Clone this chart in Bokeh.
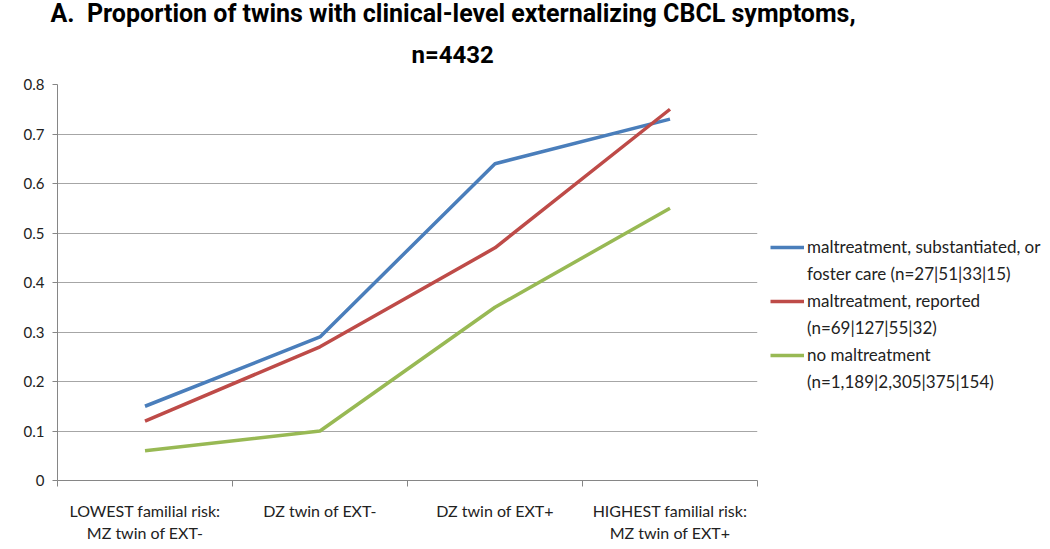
from bokeh.plotting import figure
from bokeh.models import FixedTicker, Legend, LegendItem, Range1d, Title
from bokeh.embed import file_html
from bokeh.resources import INLINE

title_line1 = "A.\u00a0 Proportion of twins with clinical-level externalizing CBCL symptoms,"
title_line2 = "n=4432"
categories = ["LOWEST familial risk:\nMZ twin of EXT-", "DZ twin of EXT-",
              "DZ twin of EXT+", "HIGHEST familial risk:\nMZ twin of EXT+"]
series_names = [("maltreatment, substantiated, or", "foster care (n=27|51|33|15)"),
                ("maltreatment, reported", "(n=69|127|55|32)"),
                ("no maltreatment", "(n=1,189|2,305|375|154)")]
substantiated = [0.15, 0.29, 0.64, 0.73]
reported = [0.12, 0.27, 0.47, 0.75]
none_ = [0.06, 0.10, 0.35, 0.55]
y_ticks = [0, 0.1, 0.2, 0.3, 0.4, 0.5, 0.6, 0.7, 0.8]
colors = ["#4A7EBB", "#BE4B48", "#98B954"]

FONT = "Lato"
TFONT = "Roboto"
xs = [i + 0.5 for i in range(len(categories))]

p = figure(width=1048, height=541, output_backend="svg", toolbar_location=None,
           x_range=Range1d(0, 4), y_range=Range1d(0, 0.8),
           min_border_left=57, min_border_right=291, min_border_top=84, min_border_bottom=61)
p.frame_width = 700
p.frame_height = 396
p.outline_line_color = None
p.background_fill_color = "white"

# titles (two lines)
t2 = Title(text=title_line2, text_font=TFONT, text_font_style="bold", text_font_size="24px",
           align="left", offset=354, standoff=32, text_color="#000000")
t1 = Title(text=title_line1, text_font=TFONT, text_font_style="bold", text_font_size="25px",
           align="left", offset=-7, standoff=-10, text_color="#000000")
p.add_layout(t2, "above")
p.add_layout(t1, "above")

# x axis
p.xaxis.ticker = FixedTicker(ticks=xs, minor_ticks=[0, 1, 2, 3, 4])
p.xaxis.major_label_overrides = {x: c for x, c in zip(xs, categories)}
p.xaxis.major_tick_line_color = None
p.xaxis.major_tick_out = 0
p.xaxis.major_tick_in = 0
p.xaxis.minor_tick_out = 6
p.xaxis.minor_tick_in = 0
p.xaxis.minor_tick_line_color = "#868686"
p.xaxis.axis_line_color = "#868686"
p.xaxis.major_label_standoff = 14
p.xaxis.major_label_text_font = FONT
p.xaxis.major_label_text_font_size = "16px"
p.xaxis.major_label_text_color = "#222222"

# y axis
p.yaxis.ticker = FixedTicker(ticks=y_ticks, minor_ticks=[])
p.yaxis.major_label_overrides = {t: ("0" if t == 0 else f"{t:.1f}") for t in y_ticks}
p.yaxis.major_tick_out = 5
p.yaxis.major_tick_in = 0
p.yaxis.major_tick_line_color = "#868686"
p.yaxis.axis_line_color = "#868686"
p.yaxis.major_label_standoff = 8
p.yaxis.major_label_text_font = FONT
p.yaxis.major_label_text_font_size = "15px"
p.yaxis.major_label_text_color = "#222222"

p.xgrid.grid_line_color = None
p.ygrid.ticker = FixedTicker(ticks=y_ticks)
p.ygrid.grid_line_color = "#A6A6A6"
p.ygrid.grid_line_width = 1

items = []
for (l1, l2), vals, col in zip(series_names, [substantiated, reported, none_], colors):
    r = p.line(xs, vals, line_color=col, line_width=3.5)
    ghost = p.line(xs, vals, line_color=col, line_alpha=0)
    items.append(LegendItem(label=l1, renderers=[r]))
    items.append(LegendItem(label=l2, renderers=[ghost]))

legend = Legend(items=items, location=(13, 88), padding=0, margin=0,
                border_line_color=None, background_fill_alpha=0,
                glyph_width=34, glyph_height=20, label_height=20, label_standoff=3,
                spacing=6, label_text_font=FONT, label_text_font_size="17px",
                label_text_color="#222222")
p.add_layout(legend, "right")

open("out.html", "w").write(file_html(p, INLINE))
